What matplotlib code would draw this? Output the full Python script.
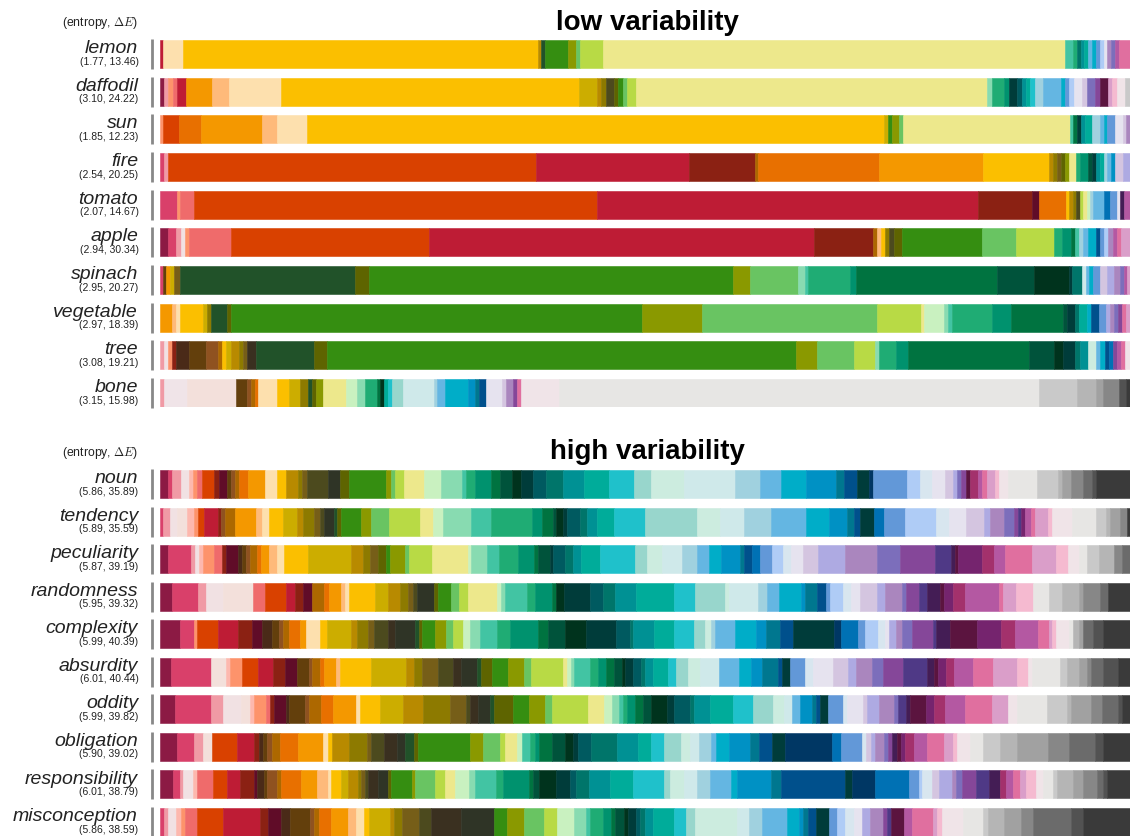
import numpy as np
import matplotlib
matplotlib.use("Agg")
import matplotlib.pyplot as plt
from matplotlib.transforms import blended_transform_factory

plt.rcParams["font.family"] = ["Liberation Sans", "DejaVu Sans"]
plt.rcParams["mathtext.fontset"] = "cm"

# colour swatches, keyed by a short name
palette = {
    "mag": "#8c1a44", "rose": "#d9406a", "pk": "#f09aa5", "pk0": "#f1e1e3",
    "pch0": "#f3e0db", "spk": "#fdb8ae", "sal": "#fd936b", "cor": "#ef6b6b",
    "crim": "#be1c35", "ro": "#d94100", "dr": "#8b2113", "mar": "#600c28",
    "db": "#4a2a18", "br": "#633f0c", "bro": "#8f5220", "ob": "#ad6800",
    "or": "#e87000", "oy": "#f49800", "lo": "#feba7a", "pch": "#fde0ae",
    "yel": "#fbbf00", "mus": "#ccad00", "gold": "#b88a00", "ol": "#8d7a00",
    "olb": "#765e18", "dol": "#4c4a1e", "dbg": "#3a3020", "dgg": "#2f3426",
    "dg": "#215229", "olg": "#5e6400", "gr": "#358e11", "oll": "#8a9900",
    "lg": "#69c462", "yg": "#b8da45", "py": "#ede88c", "pg": "#c9f1c0",
    "mint": "#88dbb1", "turq": "#42c4a3", "gt": "#1fac74", "tg": "#00926e",
    "dkg": "#007340", "dtg": "#00533b", "vdg": "#00331d", "dt": "#003c3a",
    "dc": "#005a60", "teal": "#00756a", "ct": "#009194", "tc": "#00ac9a",
    "cy": "#1fc1cb", "lt": "#98d6cc", "vpg": "#ccecdf", "vpc": "#cfe9ea",
    "lb": "#a0d1df", "sky": "#64b6e2", "cb": "#00adc8", "bl": "#0091c4",
    "bt": "#00778f", "dbl": "#00508c", "nv": "#003764", "bl2": "#0071b4",
    "cf": "#6298d8", "lper": "#afccf6", "vpb": "#d8e6ef", "lw": "#e6e3ef",
    "llav": "#d4c5e0", "per": "#aeaae2", "lp": "#aa86be", "sp": "#7c6ebb",
    "pu": "#854799", "ind": "#4f3986", "dpu": "#441d55", "vdm": "#5b143f",
    "plum": "#75246e", "mr": "#a3316c", "orc": "#b458a2", "pink": "#e06f9f",
    "lorc": "#da9ec9", "lpk": "#f5bad0", "ppg": "#f0e4e8", "lgy": "#e7e6e4",
    "g1": "#c9c9c9", "g2": "#b5b5b5", "g3": "#a1a1a1", "g4": "#878787",
    "g5": "#6b6b6b", "g6": "#525252", "dgy": "#3a3a3a",
}

low_words = ["lemon", "daffodil", "sun", "fire", "tomato", "apple",
             "spinach", "vegetable", "tree", "bone"]
low_stats = [(1.77, 13.46), (3.10, 24.22), (1.85, 12.23), (2.54, 20.25),
             (2.07, 14.67), (2.94, 30.34), (2.95, 20.27), (2.97, 18.39),
             (3.08, 19.21), (3.15, 15.98)]

high_words = ["noun", "tendency", "peculiarity", "randomness", "complexity",
              "absurdity", "oddity", "obligation", "responsibility",
              "misconception"]
high_stats = [(5.86, 35.89), (5.89, 35.59), (5.87, 39.19), (5.95, 39.32),
              (5.99, 40.39), (6.01, 40.44), (5.99, 39.82), (5.90, 39.02),
              (6.01, 38.79), (5.86, 38.59)]

# (colour, share) segments per word
lemon = [("crim", 3), ("pch", 20), ("yel", 355), ("gold", 3), ("dg", 4), ("gr", 23),
         ("oll", 8), ("lg", 4), ("yg", 23), ("py", 461), ("turq", 8), ("gt", 4),
         ("teal", 4), ("ct", 3), ("tc", 4), ("sky", 4), ("cb", 4), ("cf", 4),
         ("lper", 4), ("lw", 3), ("lp", 4), ("sp", 4), ("orc", 4), ("pink", 11)]
daffodil = [("mag", 4), ("pk", 4), ("sal", 5), ("cor", 4), ("crim", 9), ("oy", 26),
            ("lo", 17), ("pch", 52), ("yel", 298), ("mus", 18), ("gold", 4), ("ol", 5),
            ("dol", 8), ("olg", 4), ("gr", 5), ("lg", 4), ("yg", 9), ("py", 350),
            ("mint", 5), ("gt", 12), ("tg", 5), ("dt", 8), ("dc", 5), ("ct", 4),
            ("tc", 4), ("cy", 5), ("lb", 8), ("sky", 18), ("cb", 4), ("cf", 4),
            ("lper", 5), ("lw", 8), ("llav", 5), ("sp", 8), ("pu", 5), ("vdm", 8),
            ("lorc", 4), ("lpk", 5), ("ppg", 8), ("g1", 5)]
sun = [("sal", 3), ("ro", 16), ("or", 22), ("oy", 61), ("lo", 15), ("pch", 30),
       ("yel", 576), ("mus", 4), ("gr", 4), ("oll", 7), ("lg", 4), ("py", 167),
       ("turq", 3), ("dkg", 4), ("dt", 4), ("ct", 4), ("tc", 7), ("lb", 8),
       ("sky", 4), ("cb", 3), ("cf", 8), ("lw", 8), ("llav", 3), ("lp", 4)]
fire = [("rose", 4), ("pk", 4), ("ro", 368), ("crim", 152), ("dr", 66), ("ob", 3),
        ("or", 121), ("oy", 104), ("yel", 66), ("gold", 4), ("ol", 4), ("olb", 4),
        ("olg", 4), ("oll", 4), ("py", 7), ("gt", 4), ("tg", 8), ("dtg", 4), ("dt", 4),
        ("ct", 4), ("tc", 4), ("lb", 3), ("sky", 4), ("bl", 4), ("llav", 8), ("per", 7)]
tomato = [("rose", 17), ("sal", 3), ("cor", 14), ("ro", 403), ("crim", 380), ("dr", 54),
          ("mar", 7), ("or", 27), ("yel", 3), ("gold", 4), ("ol", 3), ("dol", 4),
          ("yg", 3), ("py", 4), ("pg", 3), ("lb", 3), ("sky", 11), ("bl2", 6),
          ("cf", 7), ("lw", 3), ("dpu", 4), ("orc", 6)]
apple = [("mag", 8), ("rose", 8), ("pk", 5), ("pk0", 4), ("sal", 4), ("cor", 42),
         ("ro", 198), ("crim", 384), ("dr", 59), ("ob", 4), ("lo", 4), ("yel", 4),
         ("ol", 4), ("dol", 5), ("olg", 8), ("gr", 80), ("lg", 34), ("yg", 38),
         ("gt", 8), ("tg", 9), ("dkg", 4), ("turq", 4), ("lb", 4), ("sky", 5),
         ("cb", 8), ("dbl", 4), ("cf", 4), ("lper", 4), ("lp", 5), ("orc", 4),
         ("pink", 4), ("lorc", 9)]
spinach = [("rose", 3), ("br", 3), ("oy", 4), ("mus", 4), ("olb", 6), ("dg", 175),
           ("olg", 14), ("gr", 363), ("oll", 17), ("lg", 48), ("mint", 7), ("turq", 3),
           ("gt", 42), ("tg", 6), ("dkg", 141), ("dtg", 37), ("vdg", 35), ("dt", 3),
           ("teal", 10), ("vpc", 4), ("sky", 3), ("cb", 4), ("cf", 7), ("llav", 7),
           ("per", 7), ("lp", 6), ("sp", 4), ("orc", 3), ("lorc", 3)]
vegetable = [("oy", 12), ("lo", 4), ("pch", 4), ("yel", 23), ("mus", 4), ("ol", 4),
             ("dg", 16), ("olg", 4), ("gr", 411), ("oll", 59), ("lg", 175), ("yg", 44),
             ("py", 3), ("pg", 20), ("mint", 4), ("turq", 4), ("gt", 40), ("tg", 19),
             ("dkg", 52), ("dtg", 4), ("dt", 8), ("teal", 4), ("tc", 8), ("cb", 4),
             ("dbl", 8), ("cf", 7), ("per", 4), ("lp", 4), ("sp", 4), ("pu", 4),
             ("pink", 4), ("lorc", 4)]
tree = [("pk", 4), ("pk0", 4), ("sal", 4), ("dr", 4), ("db", 13), ("br", 17),
        ("bro", 12), ("ob", 4), ("yel", 4), ("mus", 5), ("gold", 8), ("ol", 4),
        ("olb", 4), ("dbg", 9), ("dg", 58), ("olg", 13), ("gr", 468), ("oll", 21),
        ("lg", 37), ("yg", 21), ("mint", 4), ("gt", 17), ("tg", 12), ("dkg", 121),
        ("dtg", 25), ("vdg", 9), ("dt", 12), ("teal", 5), ("ct", 8), ("vpg", 8),
        ("sky", 4), ("cb", 5), ("dbl", 4), ("bl2", 4), ("pu", 4), ("orc", 4),
        ("pink", 4), ("ppg", 5)]
bone = [("pk", 4), ("ppg", 23), ("pch0", 49), ("br", 11), ("bro", 4), ("ob", 4),
        ("or", 3), ("pch", 19), ("yel", 12), ("mus", 11), ("ol", 8), ("dg", 4),
        ("olg", 4), ("oll", 7), ("py", 23), ("pg", 11), ("mint", 8), ("gt", 12),
        ("dkg", 3), ("vdg", 4), ("tc", 4), ("cy", 4), ("lt", 11), ("vpc", 31),
        ("lb", 3), ("sky", 8), ("cb", 23), ("bl", 7), ("bt", 4), ("dbl", 7),
        ("lw", 16), ("llav", 4), ("lp", 7), ("pu", 4), ("pink", 4), ("ppg", 38),
        ("lgy", 479), ("g1", 38), ("g2", 19), ("g3", 7), ("g4", 16), ("g6", 7),
        ("dgy", 4)]

noun = [("mag", 8), ("rose", 4), ("pk", 9), ("pk0", 8), ("spk", 4), ("sal", 4),
        ("cor", 5), ("ro", 12), ("dr", 5), ("mar", 8), ("br", 4), ("bro", 4),
        ("ob", 4), ("or", 9), ("oy", 17), ("pch", 12), ("yel", 9), ("gold", 12),
        ("ol", 4), ("olb", 5), ("dol", 21), ("dgg", 12), ("olg", 9), ("gr", 37),
        ("oll", 5), ("lg", 4), ("yg", 9), ("py", 20), ("pg", 17), ("mint", 21),
        ("turq", 4), ("gt", 9), ("tg", 16), ("dkg", 9), ("dtg", 12), ("vdg", 9),
        ("dt", 12), ("dc", 13), ("teal", 17), ("ct", 21), ("tc", 25), ("cy", 25),
        ("lt", 17), ("vpg", 33), ("vpc", 51), ("lb", 25), ("sky", 21), ("cb", 25),
        ("bl", 30), ("bt", 8), ("dbl", 13), ("dt", 12), ("nv", 4), ("cf", 34),
        ("lper", 13), ("vpb", 12), ("lw", 13), ("llav", 8), ("per", 4), ("sp", 4),
        ("pu", 5), ("vdm", 4), ("mr", 8), ("orc", 4), ("pink", 5), ("lorc", 8),
        ("lpk", 4), ("ppg", 9), ("lgy", 29), ("g1", 21), ("g2", 4), ("g3", 9),
        ("g4", 12), ("g5", 9), ("g6", 4), ("dgy", 34)]
tendency = [("rose", 3), ("pk", 7), ("pk0", 7), ("pch0", 10), ("spk", 7), ("sal", 4),
            ("ro", 6), ("crim", 14), ("dr", 3), ("bro", 4), ("ob", 10), ("oy", 21),
            ("lo", 6), ("pch", 7), ("yel", 14), ("mus", 14), ("gold", 6), ("ol", 11),
            ("olb", 6), ("dol", 4), ("dgg", 10), ("dg", 3), ("olg", 4), ("gr", 20),
            ("oll", 10), ("lg", 18), ("yg", 31), ("py", 13), ("pg", 10), ("mint", 28),
            ("turq", 20), ("gt", 41), ("tg", 10), ("dkg", 11), ("dtg", 3), ("vdg", 7),
            ("dt", 4), ("dc", 13), ("teal", 7), ("ct", 10), ("tc", 17), ("cy", 31),
            ("lt", 52), ("vpg", 23), ("vpc", 24), ("lb", 27), ("sky", 35), ("cb", 23),
            ("bl", 18), ("bt", 7), ("dbl", 6), ("dt", 14), ("bl2", 10), ("cf", 21),
            ("lper", 31), ("vpb", 13), ("lw", 17), ("llav", 18), ("per", 6), ("lp", 14),
            ("sp", 10), ("pu", 4), ("ind", 3), ("plum", 4), ("orc", 6), ("pink", 4),
            ("lorc", 13), ("lpk", 4), ("ppg", 20), ("lgy", 24), ("g1", 10), ("g2", 4),
            ("g3", 10), ("g4", 7), ("dgy", 3)]
peculiarity = [("mag", 8), ("rose", 23), ("pk", 4), ("pk0", 4), ("spk", 4), ("sal", 11),
               ("cor", 8), ("dr", 4), ("mar", 12), ("db", 4), ("br", 4), ("bro", 4),
               ("ob", 7), ("or", 4), ("oy", 8), ("lo", 8), ("pch", 7), ("yel", 24),
               ("mus", 43), ("gold", 12), ("ol", 7), ("olb", 8), ("olg", 8), ("gr", 4),
               ("oll", 15), ("lg", 4), ("yg", 23), ("py", 36), ("pg", 3), ("mint", 16),
               ("turq", 12), ("gt", 19), ("tg", 16), ("dkg", 4), ("dtg", 12), ("dt", 3),
               ("dc", 12), ("teal", 8), ("ct", 8), ("tc", 19), ("cy", 35), ("lt", 12),
               ("vpg", 15), ("vpc", 20), ("lb", 15), ("sky", 12), ("cb", 12), ("bl", 19),
               ("bt", 4), ("dbl", 8), ("bl2", 8), ("cf", 12), ("lper", 11), ("vpb", 8),
               ("lw", 12), ("llav", 15), ("per", 27), ("lp", 32), ("sp", 23), ("pu", 35),
               ("ind", 16), ("dpu", 4), ("vdm", 3), ("plum", 24), ("mr", 12), ("orc", 11),
               ("pink", 27), ("lorc", 24), ("lpk", 12), ("ppg", 11), ("lgy", 8),
               ("g1", 12), ("g2", 15), ("g4", 8), ("g5", 8)]
randomness = [("mag", 12), ("rose", 26), ("pk", 8), ("pk0", 17), ("pch0", 30), ("cor", 12),
              ("ro", 21), ("crim", 9), ("dr", 8), ("mar", 9), ("ob", 12), ("or", 5),
              ("oy", 12), ("lo", 4), ("pch", 4), ("yel", 26), ("mus", 13), ("gold", 12),
              ("ol", 8), ("olb", 5), ("dol", 4), ("dgg", 17), ("olg", 4), ("gr", 13),
              ("lg", 8), ("yg", 9), ("py", 29), ("pg", 4), ("mint", 4), ("turq", 22),
              ("gt", 8), ("tg", 17), ("dkg", 4), ("vdg", 8), ("dt", 26), ("dc", 13),
              ("teal", 12), ("ct", 21), ("tc", 38), ("cy", 21), ("lt", 30), ("vpg", 4),
              ("vpc", 29), ("lb", 9), ("sky", 12), ("cb", 22), ("bl", 4), ("bt", 12),
              ("dbl", 9), ("cf", 4), ("lper", 13), ("vpb", 8), ("lw", 9), ("llav", 17),
              ("per", 8), ("lp", 17), ("sp", 4), ("pu", 13), ("ind", 8), ("dpu", 13),
              ("vdm", 4), ("plum", 9), ("mr", 12), ("orc", 34), ("pink", 4), ("lorc", 13),
              ("lpk", 17), ("lgy", 16), ("g1", 13), ("g2", 17), ("g3", 4), ("g4", 17),
              ("g5", 8), ("dgy", 22)]
complexity = [("mag", 20), ("rose", 14), ("sal", 3), ("ro", 21), ("crim", 20), ("dr", 14),
              ("mar", 10), ("db", 10), ("br", 7), ("bro", 4), ("ob", 6), ("or", 11),
              ("oy", 6), ("pch", 14), ("yel", 7), ("mus", 24), ("gold", 6), ("ol", 11),
              ("olb", 6), ("dol", 14), ("dbg", 7), ("dgg", 20), ("dg", 4), ("olg", 3),
              ("gr", 13), ("oll", 11), ("lg", 7), ("yg", 10), ("pg", 7), ("mint", 10),
              ("turq", 17), ("gt", 13), ("tg", 28), ("dkg", 10), ("dtg", 17), ("vdg", 21),
              ("dt", 30), ("dc", 14), ("teal", 3), ("ct", 21), ("tc", 20), ("cy", 20),
              ("lt", 11), ("vpg", 6), ("lb", 4), ("sky", 20), ("cb", 21), ("bl", 10),
              ("bt", 14), ("dbl", 13), ("dt", 41), ("nv", 7), ("bl2", 17), ("cf", 7),
              ("lper", 13), ("vpb", 7), ("lw", 4), ("per", 7), ("lp", 6), ("sp", 10),
              ("pu", 21), ("ind", 3), ("dpu", 14), ("vdm", 27), ("plum", 24), ("mr", 14),
              ("orc", 23), ("pink", 11), ("lorc", 3), ("lpk", 4), ("ppg", 13), ("lgy", 4),
              ("g2", 6), ("g3", 4), ("g5", 10), ("g6", 10), ("dgy", 27)]
absurdity = [("mag", 11), ("rose", 40), ("pch0", 15), ("spk", 4), ("sal", 12), ("ro", 16),
             ("crim", 15), ("dr", 12), ("mar", 12), ("br", 12), ("bro", 3), ("ob", 8),
             ("or", 4), ("oy", 12), ("lo", 4), ("yel", 31), ("mus", 35), ("gold", 8),
             ("ol", 8), ("olb", 16), ("dol", 15), ("dbg", 8), ("dgg", 16), ("dg", 4),
             ("olg", 11), ("gr", 16), ("oll", 16), ("lg", 7), ("yg", 32), ("py", 4),
             ("pg", 4), ("mint", 3), ("turq", 16), ("gt", 8), ("tg", 8), ("dkg", 8),
             ("dtg", 8), ("vdg", 3), ("dt", 8), ("dc", 8), ("teal", 4), ("ct", 8),
             ("tc", 15), ("cy", 8), ("lt", 12), ("vpg", 12), ("vpc", 19), ("sky", 20),
             ("cb", 12), ("bl", 11), ("bt", 16), ("dbl", 4), ("dt", 8), ("cf", 15),
             ("vpb", 8), ("lw", 20), ("llav", 15), ("per", 8), ("lp", 16), ("sp", 11),
             ("pu", 20), ("ind", 24), ("dpu", 7), ("vdm", 4), ("plum", 8), ("mr", 8),
             ("orc", 19), ("pink", 20), ("lorc", 24), ("lpk", 11), ("ppg", 4),
             ("lgy", 28), ("g1", 7), ("g2", 12), ("g3", 8), ("g4", 4), ("g5", 12),
             ("g6", 15), ("dgy", 12)]
oddity = [("mag", 15), ("rose", 36), ("pk", 12), ("pk0", 18), ("pch0", 9), ("spk", 4),
          ("sal", 12), ("cor", 4), ("dr", 4), ("mar", 12), ("db", 3), ("br", 16),
          ("bro", 4), ("ob", 12), ("or", 12), ("oy", 23), ("pch", 4), ("yel", 20),
          ("mus", 23), ("gold", 20), ("ol", 27), ("olb", 16), ("dol", 4), ("dbg", 8),
          ("dgg", 12), ("dg", 4), ("olg", 19), ("gr", 16), ("oll", 16), ("lg", 7),
          ("yg", 36), ("py", 16), ("pg", 8), ("mint", 7), ("turq", 4), ("gt", 4),
          ("tg", 8), ("dkg", 8), ("dtg", 8), ("vdg", 16), ("dt", 7), ("dc", 16),
          ("teal", 4), ("ct", 16), ("tc", 23), ("cy", 20), ("lt", 20), ("vpg", 11),
          ("vpc", 8), ("sky", 8), ("bl", 12), ("bt", 4), ("dbl", 4), ("dt", 8),
          ("cf", 15), ("vpb", 4), ("lw", 16), ("llav", 4), ("per", 12), ("lp", 15),
          ("sp", 4), ("ind", 8), ("dpu", 4), ("vdm", 16), ("plum", 8), ("mr", 11),
          ("orc", 20), ("pink", 27), ("lorc", 16), ("ppg", 9), ("lgy", 30), ("g1", 20),
          ("g2", 4), ("g3", 20), ("g4", 11), ("g5", 16), ("g6", 4), ("dgy", 8)]
obligation = [("mag", 17), ("rose", 17), ("pk", 9), ("pch0", 9), ("ro", 25), ("crim", 17),
              ("dr", 5), ("db", 4), ("br", 4), ("bro", 5), ("ob", 8), ("or", 18),
              ("oy", 25), ("pch", 5), ("yel", 4), ("gold", 17), ("ol", 18), ("olb", 4),
              ("dol", 13), ("dbg", 13), ("dgg", 8), ("dg", 9), ("olg", 4), ("gr", 52),
              ("oll", 13), ("lg", 17), ("yg", 5), ("py", 12), ("pg", 5), ("turq", 8),
              ("gt", 5), ("tg", 4), ("dkg", 13), ("dtg", 13), ("vdg", 8), ("dt", 5),
              ("dc", 13), ("teal", 26), ("ct", 21), ("tc", 13), ("cy", 13), ("lt", 17),
              ("vpg", 9), ("vpc", 9), ("lb", 12), ("sky", 5), ("cb", 13), ("bl", 21),
              ("bt", 9), ("dbl", 13), ("dt", 13), ("nv", 47), ("bl2", 9), ("cf", 21),
              ("vpb", 4), ("llav", 5), ("per", 4), ("lp", 9), ("sp", 4), ("pu", 4),
              ("dpu", 5), ("vdm", 4), ("plum", 4), ("mr", 9), ("orc", 13), ("pink", 17),
              ("lorc", 9), ("lpk", 4), ("ppg", 13), ("lgy", 13), ("g1", 17), ("g2", 17),
              ("g3", 31), ("g4", 21), ("g5", 26), ("g6", 8), ("dgy", 27)]
responsibility = [("mag", 13), ("rose", 7), ("pk", 3), ("pk0", 10), ("spk", 4), ("cor", 16),
                  ("ro", 14), ("crim", 13), ("dr", 14), ("mar", 3), ("db", 7), ("br", 3),
                  ("bro", 10), ("ob", 4), ("or", 20), ("oy", 16), ("lo", 11), ("pch", 3),
                  ("yel", 10), ("mus", 7), ("gold", 10), ("ol", 3), ("olb", 4), ("dol", 3),
                  ("dbg", 10), ("dgg", 10), ("olg", 3), ("gr", 21), ("oll", 3), ("lg", 20),
                  ("yg", 10), ("py", 10), ("pg", 14), ("mint", 6), ("turq", 21), ("gt", 7),
                  ("tg", 26), ("dkg", 4), ("dtg", 6), ("vdg", 17), ("dt", 14), ("dc", 6),
                  ("teal", 13), ("ct", 21), ("tc", 23), ("cy", 31), ("lt", 6), ("vpg", 14),
                  ("vpc", 13), ("lb", 13), ("sky", 21), ("cb", 6), ("bl", 34), ("bt", 10),
                  ("dbl", 64), ("dt", 7), ("nv", 23), ("bl2", 34), ("cf", 10), ("lper", 3),
                  ("vpb", 10), ("llav", 7), ("per", 13), ("lp", 4), ("sp", 6), ("pu", 14),
                  ("ind", 13), ("dpu", 11), ("mr", 6), ("orc", 7), ("pink", 7), ("lorc", 6),
                  ("lpk", 10), ("ppg", 7), ("lgy", 10), ("g1", 4), ("g2", 16), ("g3", 10),
                  ("g4", 14), ("g5", 6), ("g6", 4), ("dgy", 23)]
misconception = [("rose", 4), ("pk", 4), ("pk0", 8), ("spk", 5), ("sal", 4), ("cor", 12),
                 ("ro", 26), ("crim", 37), ("dr", 8), ("mar", 13), ("db", 9), ("br", 20),
                 ("bro", 4), ("ob", 5), ("or", 12), ("oy", 17), ("lo", 8), ("pch", 8),
                 ("yel", 5), ("mus", 21), ("gold", 4), ("ol", 8), ("olb", 17), ("dol", 12),
                 ("dbg", 30), ("dgg", 33), ("gr", 13), ("oll", 17), ("lg", 20), ("yg", 13),
                 ("pg", 17), ("mint", 12), ("turq", 4), ("gt", 13), ("tg", 8), ("dkg", 4),
                 ("dtg", 9), ("vdg", 4), ("dt", 8), ("dc", 4), ("teal", 5), ("ct", 8),
                 ("tc", 21), ("cy", 12), ("lt", 9), ("vpg", 42), ("vpc", 12), ("lb", 13),
                 ("sky", 25), ("cb", 12), ("bl", 4), ("bt", 5), ("dbl", 8), ("dt", 13),
                 ("cf", 8), ("lper", 8), ("vpb", 9), ("lw", 8), ("per", 8), ("lp", 13),
                 ("pu", 4), ("ind", 4), ("vdm", 13), ("orc", 8), ("pink", 21), ("lorc", 4),
                 ("lpk", 5), ("ppg", 21), ("lgy", 20), ("g1", 5), ("g2", 16), ("g3", 17),
                 ("g4", 12), ("g5", 38), ("g6", 12), ("dgy", 47)]

low_rows = [lemon, daffodil, sun, fire, tomato, apple, spinach, vegetable, tree, bone]
high_rows = [noun, tendency, peculiarity, randomness, complexity, absurdity, oddity,
             obligation, responsibility, misconception]

W, H = 1130, 837
fig = plt.figure(figsize=(W / 100, H / 100), dpi=100)


def fx(px):
    return px / W


def fy(py):
    return 1 - py / H


def draw_panel(words, stats, rows, top, bot, title, title_y, header_y):
    ax = fig.add_axes([fx(160), fy(bot), fx(970), (bot - top) / H])
    h = 0.745
    for i, segs in enumerate(rows):
        cols = [palette[k] for k, _ in segs]
        vals = np.array([v for _, v in segs], dtype=float)
        vals = vals / vals.sum()
        left = np.concatenate([[0], np.cumsum(vals)[:-1]])
        ax.barh(i, vals, left=left, height=h, color=cols, edgecolor=cols, linewidth=0.4)
    ax.set_xlim(0, 1)
    ax.set_ylim(len(rows) - 1 + h / 2, -h / 2)
    ax.axis("off")

    tr = blended_transform_factory(fig.transFigure, ax.transData)
    for i, (w, (e, d)) in enumerate(zip(words, stats)):
        ax.plot([fx(151.7)] * 2, [i - 0.4, i + 0.4], transform=tr, color="#888888",
                lw=2, clip_on=False, solid_capstyle="butt")
        ax.text(fx(138), i - 0.05, w, transform=tr, ha="right", va="baseline",
                fontsize=14, style="italic", color="#222222")
        ax.text(fx(138.5), i + 0.175, f"({e:.2f}, {d:.2f})", transform=tr, ha="right",
                va="center", fontsize=7.5, color="#222222")
    fig.text(fx(138.5), fy(header_y), r"(entropy, $\Delta E$)", ha="right", va="center",
             fontsize=8.8, color="#222222")
    fig.text(fx(647), fy(title_y), title, ha="center", va="baseline", fontsize=20,
             fontweight="bold")


draw_panel(low_words, low_stats, low_rows, 41, 408, "low variability", 30, 23)
draw_panel(high_words, high_stats, high_rows, 471, 837, "high variability", 459, 453)

fig.savefig("out.png", dpi=100)
